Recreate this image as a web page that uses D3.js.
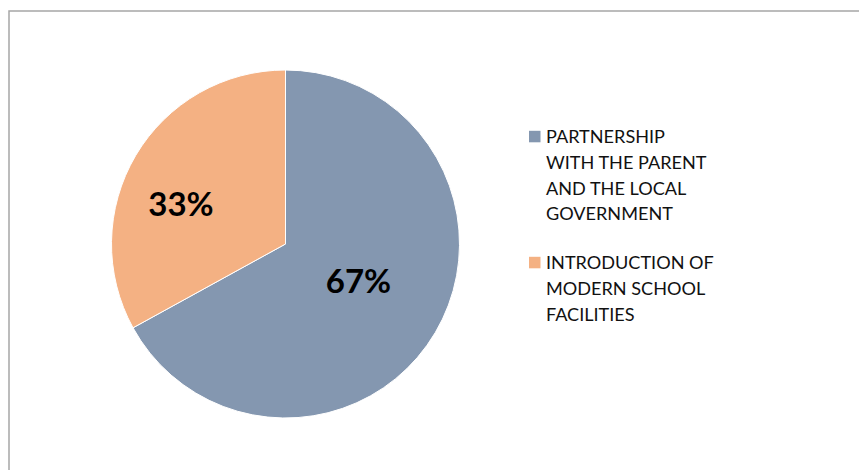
<!DOCTYPE html>
<html>
<head>
<meta charset="utf-8">
<script src="https://cdn.jsdelivr.net/npm/d3@7"></script>
<style>
  html, body { margin: 0; padding: 0; background: #fff; }
  svg { display: block; }
</style>
</head>
<body>
<svg id="chart" width="859" height="470"></svg>
<script>
// Survey shares by response category
const categories = [
  "PARTNERSHIP WITH THE PARENT AND THE LOCAL GOVERNMENT",
  "INTRODUCTION OF MODERN SCHOOL FACILITIES"
];
const values = [67, 33];
const legendLines = [
  ["PARTNERSHIP", "WITH THE PARENT", "AND THE LOCAL", "GOVERNMENT"],
  ["INTRODUCTION OF", "MODERN SCHOOL", "FACILITIES"]
];
const colors = ["#8497B0", "#F4B183"];

const svg = d3.select("#chart");
const font = "Lato, 'Open Sans', sans-serif";

// chart area frame
svg.append("rect")
  .attr("x", 9).attr("y", 11)
  .attr("width", 870).attr("height", 480)
  .attr("fill", "#fff")
  .attr("stroke", "#a6a6a6")
  .attr("stroke-width", 1.5);

const cx = 285.5, cy = 244, r = 174;

const pie = d3.pie().sort(null).value(d => d);
const arcs = pie(values);
const arc = d3.arc().innerRadius(0).outerRadius(r);

const g = svg.append("g").attr("transform", `translate(${cx},${cy})`);

g.selectAll("path.slice")
  .data(arcs)
  .enter().append("path")
  .attr("class", "slice")
  .attr("d", arc)
  .attr("fill", (d, i) => colors[i])
  .attr("stroke", "#fff")
  .attr("stroke-width", 1);

// best-fit data label placement: radial fraction and angular nudge per slice
const labelRadius = [0.47, 0.643];
const labelNudge = [-0.066, -0.169];
const total = d3.sum(values);
g.selectAll("text.pct")
  .data(arcs)
  .enter().append("text")
  .attr("class", "pct")
  .attr("transform", (d, i) => {
    const a = (d.startAngle + d.endAngle) / 2 + labelNudge[i];
    const rr = r * labelRadius[i];
    return `translate(${rr * Math.sin(a)},${-rr * Math.cos(a)})`;
  })
  .attr("text-anchor", "middle")
  .attr("dy", "0.36em")
  .attr("font-family", font)
  .attr("font-weight", 700)
  .attr("font-size", 33)
  .attr("fill", "#000")
  .text(d => Math.round(d.data / total * 100) + "%");

// legend
const legend = svg.append("g");
const lineH = 25.7;
const entryTops = [143.3, 269.3];
categories.forEach((c, i) => {
  const base = entryTops[i];
  legend.append("rect")
    .attr("x", 529).attr("y", base - 12.5)
    .attr("width", 11.5).attr("height", 11.5)
    .attr("fill", colors[i]);
  const t = legend.append("text")
    .attr("font-family", font)
    .attr("font-size", 18.1)
    .attr("fill", "#111");
  legendLines[i].forEach((ln, j) => {
    t.append("tspan")
      .attr("x", 546)
      .attr("y", base + j * lineH)
      .text(ln);
  });
});
</script>
</body>
</html>
